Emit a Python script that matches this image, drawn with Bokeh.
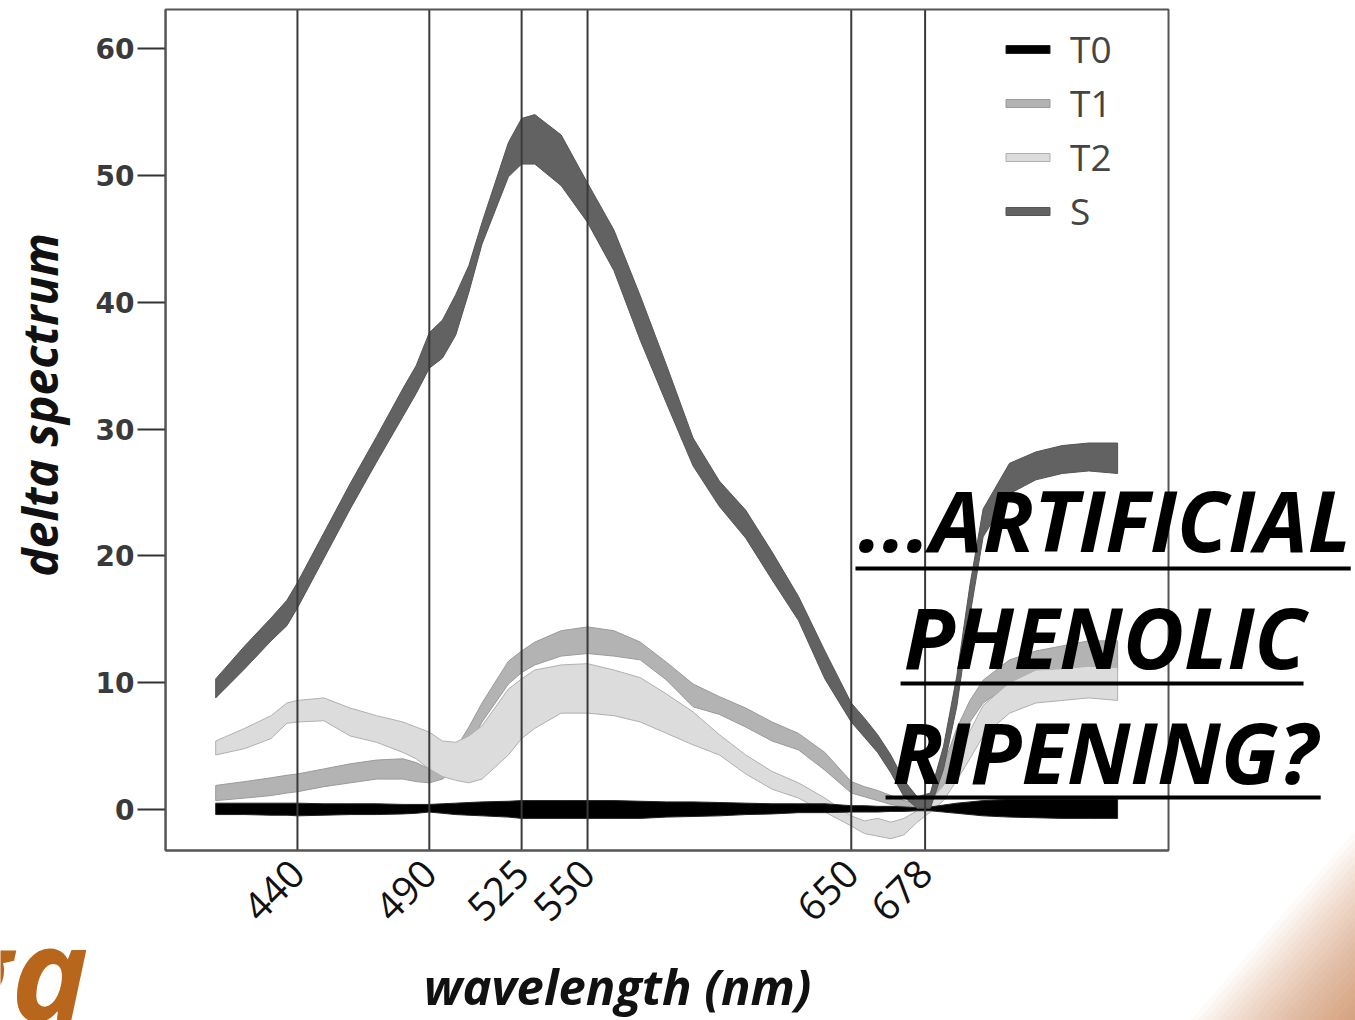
import math
from bokeh.plotting import figure
from bokeh.models import (Range1d, FixedTicker, Label, Legend, LegendItem,
                          Arrow, PolyAnnotation, BoxAnnotation)
from bokeh.embed import file_html
from bokeh.resources import INLINE

# ---------------- data ----------------
wavelength = [409, 420, 430, 436, 440, 450, 460, 470, 480, 485, 490, 495, 500, 505, 510,
              520, 525, 530, 540, 550, 560, 570, 580, 590, 600, 610, 620, 630, 640, 650,
              655, 660, 665, 670, 675, 680, 685, 690, 695, 700, 710, 720, 730, 740, 751]

S_upper = [10.3, 12.9, 15.1, 16.5, 17.9, 21.8, 25.7, 29.4, 33.2, 35.0, 37.6, 38.6, 40.6, 42.9, 46.3,
           52.6, 54.5, 54.8, 53.2, 49.4, 45.7, 40.5, 35.0, 29.3, 25.9, 23.6, 20.3, 16.8, 12.5, 8.4,
           7.2, 5.9, 4.3, 2.3, 1.0, 1.3, 5.0, 10.5, 17.7, 23.7, 27.3, 28.2, 28.7, 28.9, 28.9]
S_lower = [8.8, 11.1, 13.3, 14.5, 15.9, 19.8, 23.7, 27.4, 31.0, 32.8, 34.8, 35.6, 37.4, 40.8, 44.6,
           49.9, 50.9, 50.9, 49.2, 46.3, 42.5, 37.0, 32.0, 27.1, 23.9, 21.4, 18.1, 14.9, 10.3, 6.9,
           5.7, 4.5, 2.9, 1.0, 0.1, 0.1, 3.2, 8.1, 15.3, 21.5, 24.9, 26.0, 26.5, 26.7, 26.5]

T1_upper = [1.9, 2.2, 2.5, 2.7, 2.8, 3.2, 3.6, 3.9, 4.0, 3.7, 3.2, 3.9, 4.8, 6.5, 8.4,
            11.7, 12.5, 13.2, 14.1, 14.4, 14.1, 13.2, 11.6, 9.9, 8.9, 8.0, 6.9, 6.0, 4.5, 2.2,
            1.8, 1.5, 1.1, 0.7, 0.5, 1.1, 3.5, 6.4, 8.6, 10.2, 11.8, 12.5, 12.9, 13.3, 13.3]
T1_lower = [0.7, 0.9, 1.1, 1.3, 1.4, 1.8, 2.1, 2.4, 2.4, 2.2, 2.1, 2.4, 3.2, 5.0, 6.9,
            9.9, 10.8, 11.4, 12.1, 12.3, 12.1, 11.8, 10.2, 8.1, 7.5, 6.5, 5.4, 4.7, 3.1, 1.3,
            1.0, 0.7, 0.4, 0.2, 0.0, 0.1, 1.9, 4.7, 6.9, 8.4, 9.8, 10.5, 11.0, 11.1, 11.0]

T2_upper = [5.4, 6.4, 7.4, 8.4, 8.6, 8.8, 8.0, 7.4, 6.9, 6.5, 6.1, 5.4, 5.3, 5.8, 6.6,
            9.5, 10.3, 11.0, 11.4, 11.5, 11.0, 10.4, 9.1, 7.7, 5.9, 4.3, 3.0, 2.1, 0.9, -0.5,
            -0.9, -0.7, -1.0, -0.7, -0.1, 0.7, 1.9, 3.9, 6.2, 8.2, 10.0, 11.0, 11.1, 11.3, 11.2]
T2_lower = [4.3, 4.8, 5.6, 6.8, 6.9, 7.0, 5.8, 5.3, 4.5, 4.0, 3.2, 2.6, 2.3, 2.1, 2.4,
            4.3, 5.6, 6.4, 7.6, 7.6, 7.4, 6.9, 6.0, 5.1, 4.3, 2.8, 1.6, 0.9, -0.2, -1.3,
            -1.9, -2.1, -2.3, -2.0, -1.0, -0.2, 0.7, 2.3, 4.0, 5.8, 7.6, 8.4, 8.6, 8.8, 8.6]

T0_upper = [0.5, 0.5, 0.5, 0.5, 0.5, 0.45, 0.45, 0.45, 0.4, 0.4, 0.4, 0.45, 0.5, 0.55, 0.6,
            0.65, 0.7, 0.7, 0.7, 0.7, 0.7, 0.65, 0.6, 0.6, 0.55, 0.5, 0.45, 0.45, 0.45, 0.3,
            0.3, 0.25, 0.25, 0.2, 0.15, 0.2, 0.35, 0.5, 0.6, 0.7, 0.8, 0.8, 0.8, 0.8, 0.8]
T0_lower = [-0.4, -0.4, -0.45, -0.45, -0.5, -0.45, -0.4, -0.4, -0.35, -0.3, -0.2, -0.3, -0.4, -0.45, -0.5,
            -0.6, -0.7, -0.7, -0.7, -0.7, -0.7, -0.7, -0.6, -0.55, -0.5, -0.4, -0.35, -0.25, -0.25, -0.2,
            -0.2, -0.2, -0.15, -0.15, -0.1, -0.1, -0.2, -0.3, -0.4, -0.5, -0.6, -0.65, -0.7, -0.7, -0.7]

marker_wavelengths = [440, 490, 525, 550, 650, 678]
y_ticks = [0, 10, 20, 30, 40, 50, 60]
series_names = ["T0", "T1", "T2", "S"]

# chart box (data extent of the plotted area)
X_LO, X_HI = 390.0, 770.3
Y_LO, Y_HI = -3.23, 63.09

# ---------------- figure: the frame covers the whole canvas ----------------
p = figure(frame_width=1355, frame_height=1020, min_border=0,
           x_range=Range1d(327.4, 841.2), y_range=Range1d(-16.64, 63.80),
           output_backend="svg", toolbar_location=None, title=None)
p.background_fill_color = "white"
p.border_fill_color = "white"
p.outline_line_color = None
p.xgrid.visible = False
p.ygrid.visible = False

# slide decoration: orange corner gradient (bottom right)
n_layers = 24
for k in range(n_layers):
    t = k / float(n_layers)
    xs_px = [1190 + 165 * t, 1355, 1355]
    ys_px = [1020, 830 + 190 * t, 1020]
    xs = [555.5 + (v - 601.5) / 2.637 for v in xs_px]
    ys = [(809 - v) / 12.68 for v in ys_px]
    p.add_layout(PolyAnnotation(xs=xs, ys=ys, fill_color="#b36a1e", fill_alpha=0.032,
                                line_color=None, level="underlay"))


def band(upper, lower, fill, line):
    xs = wavelength + wavelength[::-1]
    ys = upper + lower[::-1]
    return p.patch(xs, ys, fill_color=fill, line_color=line, line_width=1)


r_T1 = band(T1_upper, T1_lower, "#b3b3b3", "#9a9a9a")
r_T2 = band(T2_upper, T2_lower, "#dcdcdc", "#b0b0b0")
r_T0 = band(T0_upper, T0_lower, "#000000", "#222222")
r_S = band(S_upper, S_lower, "#626262", "#555555")

# vertical marker lines (inside the chart box only)
p.segment(x0=marker_wavelengths, y0=[Y_LO] * len(marker_wavelengths),
          x1=marker_wavelengths, y1=[Y_HI] * len(marker_wavelengths),
          line_color="#3a3a3a", line_width=2)

# chart box border
p.add_layout(BoxAnnotation(left=X_LO, right=X_HI, bottom=Y_LO, top=Y_HI,
                           fill_alpha=0, line_color="#555555", line_alpha=1.0, line_width=2))

# axes placed at the chart box edges
p.yaxis.fixed_location = X_LO
p.yaxis.bounds = (Y_LO, Y_HI)
p.yaxis.ticker = FixedTicker(ticks=y_ticks)
p.yaxis.major_label_text_font = "DejaVu Sans"
p.yaxis.major_label_text_font_style = "bold"
p.yaxis.major_label_text_font_size = "28px"
p.yaxis.major_label_text_color = "#3a3a3a"
p.yaxis.major_tick_out = 28
p.yaxis.major_tick_in = 0
p.yaxis.major_tick_line_width = 2
p.yaxis.major_tick_line_color = "#333333"
p.yaxis.minor_tick_line_color = None
p.yaxis.axis_line_color = "#555555"
p.yaxis.axis_line_width = 2
p.yaxis.major_label_standoff = 3

p.xaxis.fixed_location = Y_LO
p.xaxis.bounds = (X_LO, X_HI)
p.xaxis.ticker = FixedTicker(ticks=marker_wavelengths)
p.xaxis.major_label_orientation = math.pi / 4
p.xaxis.major_label_text_font = "Open Sans"
p.xaxis.major_label_text_font_size = "39px"
p.xaxis.major_label_text_color = "#111111"
p.xaxis.major_tick_out = 0
p.xaxis.major_tick_in = 0
p.xaxis.minor_tick_line_color = None
p.xaxis.axis_line_color = "#555555"
p.xaxis.axis_line_width = 2
p.xaxis.major_label_standoff = 16

# axis titles
p.add_layout(Label(x=561.4, y=-13.95, text="wavelength (nm)", text_align="center",
                   text_baseline="alphabetic", text_font="Open Sans", text_font_style="bold italic",
                   text_font_size="49px", text_color="#111111"))
p.add_layout(Label(x=342.2, y=31.9, text="delta spectrum", angle=math.pi / 2, text_align="center",
                   text_baseline="alphabetic", text_font="Open Sans", text_font_style="bold italic",
                   text_font_size="48px", text_color="#111111"))

# legend
items = [LegendItem(label=n, renderers=[r]) for n, r in zip(series_names, [r_T0, r_T1, r_T2, r_S])]
legend = Legend(items=items, location=(1000, 784), glyph_width=55, glyph_height=10,
                label_height=36, spacing=3, padding=0, margin=0, label_standoff=15,
                label_text_font="Open Sans", label_text_font_size="37px",
                border_line_color=None, background_fill_alpha=0)
p.add_layout(legend)

# overlay slide text
overlay_lines = ["...ARTIFICIAL", "PHENOLIC", "RIPENING?"]
overlay_anchor_y = [22.87, 13.64, 4.57]
underline_y = [19.0, 9.94, 0.95]
underline_x = [(651.6, 839.4), (668.7, 821.5), (663.0, 828.0)]
for txt, ya, yu, (x0, x1) in zip(overlay_lines, overlay_anchor_y, underline_y, underline_x):
    p.add_layout(Label(x=746.1, y=ya, text=txt, text_align="center", text_baseline="alphabetic",
                       text_font="Open Sans", text_font_style="bold italic",
                       text_font_size="84px", text_color="black"))
    p.add_layout(Arrow(end=None, x_start=x0, y_start=yu, x_end=x1, y_end=yu,
                       line_color="black", line_width=4))

# slide decoration: orange logo fragment (bottom left)
p.add_layout(Label(x=360.8, y=-12.7, text="ga", text_align="right", text_baseline="alphabetic",
                   text_font="Open Sans", text_font_style="bold italic",
                   text_font_size="130px", text_color="#b8661c"))

open("out.html", "w").write(file_html(p, INLINE))
